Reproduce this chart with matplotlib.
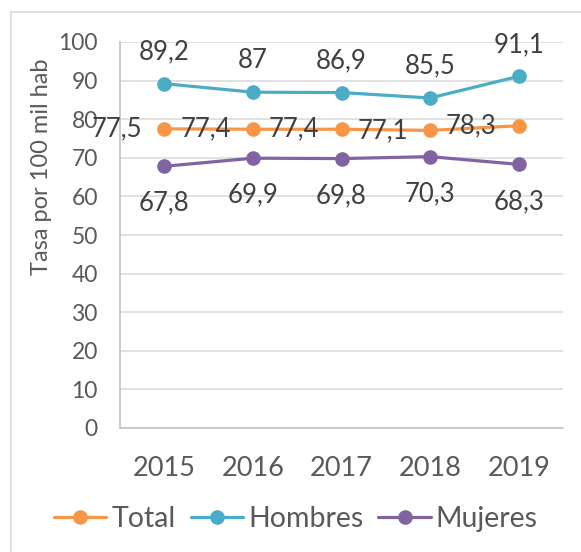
from __future__ import annotations

import matplotlib

matplotlib.use("Agg")
import matplotlib.pyplot as plt
from matplotlib.patches import Rectangle

years = ["2015", "2016", "2017", "2018", "2019"]
total = [77.5, 77.4, 77.4, 77.1, 78.3]
hombres = [89.2, 87.0, 86.9, 85.5, 91.1]
mujeres = [67.8, 69.9, 69.8, 70.3, 68.3]
y_ticks = [0, 10, 20, 30, 40, 50, 60, 70, 80, 90, 100]


def fmt(v: float) -> str:
    # Excel-style comma decimals, integers without decimals
    if float(v).is_integer():
        return str(int(v))
    return f"{v:.1f}".replace(".", ",")


def set_style() -> None:
    plt.rcParams.update(
        {
            "font.family": ["Lato", "DejaVu Sans"],
            "figure.dpi": 100,
            "savefig.dpi": 100,
            "axes.spines.top": False,
            "axes.spines.right": False,
        }
    )


def main() -> None:
    set_style()
    W, H = 581, 552
    fig = plt.figure(figsize=(W / 100, H / 100))
    ax = fig.add_axes([120 / W, 1 - 428 / H, (563 - 120) / W, (428 - 42) / H])

    text_grey = "#595959"
    label_grey = "#404040"
    series = [
        ("Total", total, "#F79646", "left"),
        ("Hombres", hombres, "#4BACC6", "above"),
        ("Mujeres", mujeres, "#8064A2", "below"),
    ]
    x = list(range(len(years)))
    for name, values, color, pos in series:
        ax.plot(x, values, color=color, linewidth=2.3, marker="o", markersize=9.5,
                label=name, zorder=3, solid_capstyle="round")
        for xi, v in zip(x, values):
            if pos == "left":
                off, ha = (-22, 0), "right"
            elif pos == "above":
                off, ha = (0, 32), "center"
            else:
                off, ha = (0, -37), "center"
            ax.annotate(fmt(v), (xi, v), xytext=off, textcoords="offset pixels",
                        ha=ha, va="center", fontsize=18.5, color=label_grey, zorder=4)

    ax.set_xlim(-0.5, len(years) - 0.5)
    ax.set_ylim(0, 100)
    ax.set_yticks(y_ticks)
    ax.set_xticks(x)
    ax.set_xticklabels(years)
    ax.grid(axis="y", color="#D9D9D9", linewidth=1.1)
    ax.set_axisbelow(True)
    ax.tick_params(axis="y", length=0, pad=16, labelsize=16.5, labelcolor=text_grey)
    ax.tick_params(axis="x", length=0, pad=20, labelsize=19.5, labelcolor=text_grey)
    for side in ("left", "bottom"):
        ax.spines[side].set_color("#BFBFBF")
        ax.spines[side].set_linewidth(1.1)

    fig.text(42 / W, 1 - 167 / H, "Tasa por 100 mil hab", rotation=90, ha="center",
             va="center", fontsize=17, color=text_grey)

    fig.legend(loc="center", bbox_to_anchor=(296 / W, 1 - 519 / H), ncol=3,
               frameon=False, fontsize=20.5, handlelength=1.83, handletextpad=0.18,
               columnspacing=0.53, labelcolor=text_grey, borderpad=0)

    fig.add_artist(Rectangle((11 / W, -0.1), 1.2, (H - 12) / H + 0.1,
                             transform=fig.transFigure, fill=False,
                             edgecolor="#D9D9D9", linewidth=1.2))
    fig.savefig("out.png")
    plt.close(fig)


if __name__ == "__main__":
    main()
